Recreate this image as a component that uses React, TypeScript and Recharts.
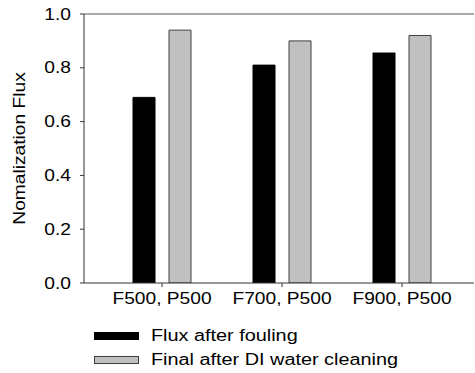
import React from "react";
import { BarChart, Bar, XAxis, YAxis, Legend, ReferenceLine, Label } from "recharts";

const categories = ["F500, P500", "F700, P500", "F900, P500"];
const fluxAfterFouling = [0.69, 0.81, 0.855];
const finalAfterCleaning = [0.94, 0.9, 0.92];
const yTicks = [0, 0.2, 0.4, 0.6, 0.8, 1.0];
const seriesNames = ["Flux after fouling", "Final after DI water cleaning"];
const yTitle = "Nomalization Flux";

const data = categories.map((c, i) => ({
  name: c,
  fouling: fluxAfterFouling[i],
  cleaning: finalAfterCleaning[i],
}));

const FONT = "'Liberation Sans', Arial, sans-serif";
const FS = 16;
const SX = 1.2;
const LEG_SX = 1.24;

const LegendContent = () => (
  <div style={{ fontFamily: FONT, fontSize: FS, color: "#000", height: 50 }}>
    {seriesNames.map((n, i) => (
      <div key={n} style={{ display: "flex", alignItems: "center", height: 24 }}>
        <span
          style={{
            display: "inline-block",
            width: 45,
            height: 8,
            background: i === 0 ? "#000" : "#c0c0c0",
            boxSizing: "border-box",
            border: i === 0 ? "1px solid #000" : "1px solid #404040",
            marginRight: 12,
          }}
        />
        <span style={{ display: "inline-block", transform: `scaleX(${LEG_SX})`, transformOrigin: "left center", whiteSpace: "nowrap" }}>{n}</span>
      </div>
    ))}
  </div>
);

const XTick = (props: any) => {
  const { x, y, payload } = props;
  return (
    <g transform={`translate(${x},${y})`}>
      <text transform={`scale(${SX},1)`} x={0} y={0} dy="0.71em" textAnchor="middle" fontFamily={FONT} fontSize={FS} fill="#000">
        {payload.value}
      </text>
    </g>
  );
};

const YTick = (props: any) => {
  const { x, y, payload } = props;
  return (
    <g transform={`translate(${x},${y})`}>
      <text transform={`scale(${SX},1)`} x={0} y={0} dy="0.355em" textAnchor="end" fontFamily={FONT} fontSize={FS} fill="#000">
        {Number(payload.value).toFixed(1)}
      </text>
    </g>
  );
};

const YLabel = (props: any) => {
  const vb = props.viewBox || {};
  const cx = (vb.x ?? 0) + 20;
  const cy = (vb.y ?? 0) + (vb.height ?? 0) / 2;
  return (
    <g transform={`translate(${cx},${cy}) rotate(-90)`}>
      <text transform={`scale(${SX},1)`} x={0} y={0} textAnchor="middle" dominantBaseline="central" fontFamily={FONT} fontSize={FS} fill="#000">
        {yTitle}
      </text>
    </g>
  );
};

export default function App() {
  return (
    <div style={{ position: "absolute", left: 0, top: 0, width: 475, height: 373, background: "#fff" }}>
      <BarChart
        width={475}
        height={373}
        data={data}
        margin={{ top: 14, right: 1, left: 0, bottom: 10 }}
        barSize={22}
        barGap={14}
      >
        <XAxis
          dataKey="name"
          height={30}
          padding={{ left: 18, right: 12 }}
          tickLine={{ stroke: "#333" }}
          axisLine={{ stroke: "#333" }}
          tickSize={4}
          tickMargin={6}
          tick={<XTick />}
          interval={0}
        />
        <YAxis
          width={84}
          domain={[0, 1]}
          ticks={yTicks}
          tickLine={{ stroke: "#333" }}
          axisLine={{ stroke: "#333" }}
          tickSize={4}
          tickMargin={9}
          tick={<YTick />}
          allowDataOverflow
        >
          <Label content={<YLabel />} />
        </YAxis>
        <ReferenceLine y={1} stroke="#555" strokeWidth={1} ifOverflow="extendDomain" />
        <Bar dataKey="fouling" name={seriesNames[0]} fill="#000" stroke="#000" strokeWidth={1} isAnimationActive={false} />
        <Bar dataKey="cleaning" name={seriesNames[1]} fill="#c0c0c0" stroke="#404040" strokeWidth={1} isAnimationActive={false} />
        <Legend
          verticalAlign="bottom"
          align="center"
          layout="vertical"
          content={<LegendContent />}
          wrapperStyle={{ left: 94, top: 324, width: 370, height: 50 }}
        />
      </BarChart>
    </div>
  );
}
